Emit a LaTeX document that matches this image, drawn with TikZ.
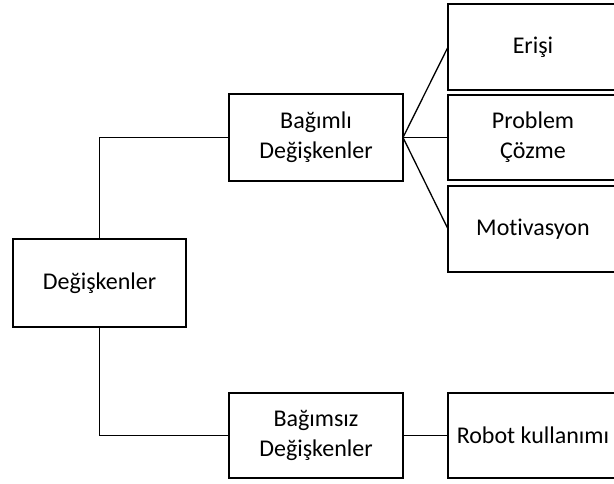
\documentclass[tikz,border=0pt]{standalone}
\usepackage{fontspec}
\setmainfont{Carlito}[Ligatures={NoCommon}]
\begin{document}
\begin{tikzpicture}[x=1pt,y=-1pt,
  box/.style={draw=black, line width=1.5pt, rectangle, inner sep=0pt, outer sep=0pt,
    align=center, font=\fontsize{24}{30}\selectfont},
  conn/.style={draw=black, line width=1.3pt}]
\useasboundingbox (0,0) rectangle (614,483);
\node[box, minimum width=173pt, minimum height=88pt] (root) at (99.5,283) {Değişkenler};
\node[box, minimum width=174pt, minimum height=87pt] (dep) at (316,137.5) {Bağımlı\\Değişkenler};
\node[box, minimum width=174pt, minimum height=85pt] (indep) at (316,435.5) {Bağımsız\\Değişkenler};
\node[box, minimum width=170pt, minimum height=86pt] (erisi) at (533,47) {Erişi};
\node[box, minimum width=170pt, minimum height=85pt] (prob) at (533,137.5) {Problem\\Çözme};
\node[box, minimum width=170pt, minimum height=86pt] (motiv) at (533,229) {Motivasyon};
\node[box, minimum width=170pt, minimum height=85pt] (robot) at (533,435.5) {Robot kullanımı};
\draw[conn] (root.north) |- (dep.west);
\draw[conn] (root.south) |- (indep.west);
\draw[conn] (dep.east) -- (erisi.west);
\draw[conn] (dep.east) -- (prob.west);
\draw[conn] (dep.east) -- (motiv.west);
\draw[conn] (indep.east) -- (robot.west);
\end{tikzpicture}
\end{document}
